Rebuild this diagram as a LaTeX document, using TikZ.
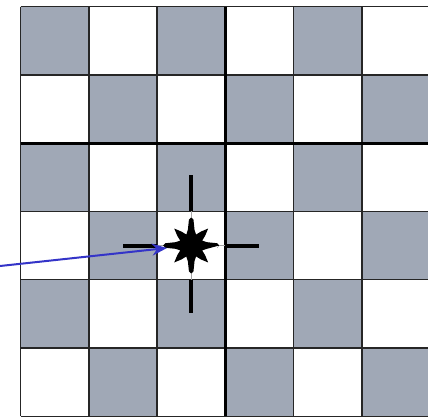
\documentclass[tikz,border=0pt]{standalone}
\usetikzlibrary{arrows.meta}
\definecolor{cellgray}{HTML}{A0A8B6}
\definecolor{arrowblue}{HTML}{3434C8}
\tikzset{
  grayfill/.style={fill=cellgray},
  gridline/.style={draw=black!85,line width=1.5pt},
  thickline/.style={draw=black,line width=3pt},
  crossline/.style={draw=black,line width=4pt},
  hairline/.style={draw=black!35,line width=0.6pt},
  pointer/.style={draw=arrowblue,line width=2pt,-{Stealth[length=15pt,width=12pt]}},
}
\begin{document}
\begin{tikzpicture}[x=1pt,y=-1pt]
\useasboundingbox (0,0) rectangle (428,418);
\fill[white] (0,0) rectangle (428,418);
\begin{scope}
\clip (0,0) rectangle (428,418);
% cells
\foreach \c in {0,...,5}{
  \foreach \r in {0,...,5}{
    \pgfmathtruncatemacro{\parity}{mod(\c+\r,2)}
    \ifnum\parity=0
      \fill[grayfill] ({20.5+68.3*\c},{6.5+68.3*\r}) rectangle ++(68.3,68.3);
    \fi
  }
}
% grid
\foreach \c in {0,...,6}{
  \draw[gridline] ({20.5+68.3*\c},6.5) -- ({20.5+68.3*\c},416.3);
}
\foreach \r in {0,...,6}{
  \draw[gridline] (20.5,{6.5+68.3*\r}) -- (440,{6.5+68.3*\r});
}
\draw[thickline] (225.4,6.5) -- (225.4,416.3);
\draw[thickline] (20.5,143.1) -- (440,143.1);
\end{scope}
% cross
\coordinate (ctr) at (191.2,245.5);
\draw[hairline] (191.2,211.4) -- (191.2,279.7);
\draw[hairline] (157.1,245.5) -- (225.4,245.5);
\draw[crossline] (191.2,175) -- (191.2,211.4);
\draw[crossline] (191.2,279.7) -- (191.2,313);
\draw[crossline] (123,245.5) -- (157.1,245.5);
\draw[crossline] (225.4,245.5) -- (259,245.5);
% star
\fill[black] ([shift={(ctr)}]0:28pt)
  \foreach \q in {0,90,180,270}{
    -- ([shift={(ctr)}]\q-5:26pt)
    -- ([shift={(ctr)}]\q+0:28pt)
    -- ([shift={(ctr)}]\q+5:26pt)
    -- ([shift={(ctr)}]\q+12:16pt)
    -- ([shift={(ctr)}]\q+24:12pt)
    -- ([shift={(ctr)}]\q+35:17pt)
    -- ([shift={(ctr)}]\q+45:24pt)
    -- ([shift={(ctr)}]\q+55:17pt)
    -- ([shift={(ctr)}]\q+66:12pt)
    -- ([shift={(ctr)}]\q+78:16pt)
  } -- cycle;
% arrow
\coordinate (src) at (0,266);
\coordinate (tip) at (167,248);
\draw[pointer] (src) -- (tip);
\end{tikzpicture}
\end{document}
